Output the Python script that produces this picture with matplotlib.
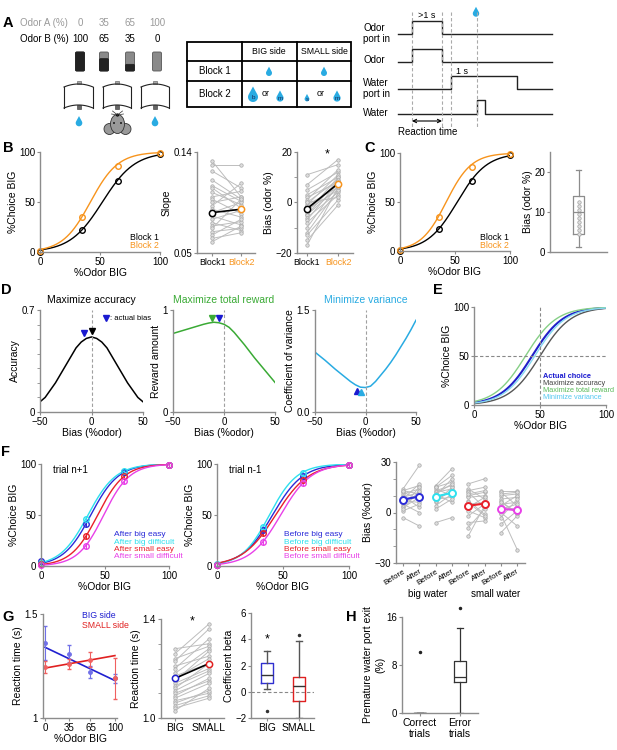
import numpy as np
import matplotlib
matplotlib.use("Agg")
import matplotlib.pyplot as plt
from matplotlib.patches import Polygon, Rectangle, Ellipse, Circle, FancyBboxPatch

plt.rcParams['font.family'] = ['Liberation Sans', 'DejaVu Sans']
plt.rcParams['font.size'] = 7

# ---------------- DATA ----------------
odor_a_pct = ["0", "35", "65", "100"]
odor_b_pct = ["100", "65", "35", "0"]
odor_levels = [0, 35, 65, 100]

# B / C psychometric
block1_choice = [0, 22, 71, 98]
block2_choice = [1, 35, 86, 99]
block1_fit = (52, 0.074)   # (midpoint, slope)
block2_fit = (42, 0.087)

slope_block1 = [0.132, 0.128, 0.123, 0.115, 0.110, 0.108, 0.104, 0.100, 0.098, 0.095, 0.092,
                0.089, 0.086, 0.083, 0.080, 0.077, 0.074, 0.072, 0.069, 0.066, 0.063, 0.060]
slope_block2 = [0.100, 0.128, 0.108, 0.098, 0.096, 0.090, 0.093, 0.105, 0.085, 0.100, 0.112,
                0.082, 0.095, 0.075, 0.088, 0.070, 0.078, 0.098, 0.072, 0.080, 0.068, 0.074]
slope_mean = [0.086, 0.089]

bias_block1 = [11, 7, 5, 3, 2, 1, 0, -1, -1, -2, -3, -3, -4, -5, -5, -6, -7, -8, -10, -12, -13, -15, -17, 0]
bias_block2 = [15, 17, 12, 10, 8, 13, 9, 11, 6, 7, 8, 5, 10, 6, 9, 4, 8, 3, 7, 5, 1, -1, 6, 2]
bias_mean = [-2.5, 7.5]

c_bias_points = [4.5, 5.5, 6.5, 7.5, 8.5, 9.5, 10.5, 11.5, 12.5]
c_bias_box = dict(med=10, q1=4.5, q3=14, whislo=1.2, whishi=20.5)

# D
bias_axis = [-50, -45, -40, -35, -30, -25, -20, -15, -10, -5, 0, 5, 10, 15, 20, 25, 30, 35, 40, 45, 50]
accuracy = [0.07, 0.10, 0.15, 0.20, 0.26, 0.32, 0.38, 0.44, 0.48, 0.505, 0.515,
            0.505, 0.48, 0.44, 0.38, 0.32, 0.26, 0.20, 0.15, 0.10, 0.07]
reward = [0.77, 0.785, 0.80, 0.815, 0.83, 0.845, 0.86, 0.872, 0.88, 0.875, 0.86,
          0.83, 0.78, 0.72, 0.66, 0.595, 0.53, 0.47, 0.41, 0.35, 0.29]
cv = [0.88, 0.82, 0.76, 0.695, 0.63, 0.57, 0.51, 0.45, 0.40, 0.365, 0.36,
      0.38, 0.45, 0.54, 0.63, 0.73, 0.84, 0.96, 1.08, 1.21, 1.35]

# E (midpoint, slope)
e_names = ["Actual choice", "Maximize accuracy", "Maximize total reward", "Minimize variance"]
e_fits = [(44, 0.085), (50, 0.085), (39, 0.085), (46, 0.085)]

# F
f1_names = ["After big easy", "After big difficult", "After small easy", "After small difficult"]
f1_choice = [[5, 41, 92, 99], [3, 46, 93, 99], [2, 29, 88, 99], [1, 20, 83, 99]]
f1_fits = [(38.9, 0.093), (36.7, 0.092), (44.3, 0.096), (49.0, 0.099)]
f2_names = ["Before big easy", "Before big difficult", "Before small easy", "Before small difficult"]
f2_choice = [[1, 35, 88, 99], [2, 38, 91, 99], [1, 32, 84, 99], [1, 24, 81, 99]]
f2_fits = [(42.1, 0.087), (39.7, 0.096), (44.4, 0.080), (48.2, 0.087)]

f3_groups = ["big easy", "big difficult", "small easy", "small difficult"]
f3_before = [[14, 13, 12, 11, 10, 9, 8, 7, 6, 5, 4, 3, 1, -3, 13, 2],
             [16, 15, 14, 13, 12, 11, 10, 9, 8, 6, 4, 2, -6, 15, 7, 11],
             [17, 14, 13, 12, 10, 9, 7, 5, 3, 1, -2, -6, -9, -14, 11, 6],
             [13, 12, 10, 8, 7, 5, 4, 3, 2, 0, -1, -3, -7, -12, 11, 6]]
f3_after = [[28, 16, 8, 14, 3, 12, 17, 6, 10, 0, 15, 9, 5, -8, 11, 13],
            [26, 18, 10, 16, 14, 6, 20, 12, 9, 15, 11, 8, -3, 22, 13, 17],
            [20, 8, 15, 3, 12, 10, -1, 6, 9, -3, 5, -5, 2, 4, 13, -2],
            [13, 4, 11, 9, -1, 6, 10, 2, 5, -8, -22, 8, 1, -2, 12, 0]]
f3_mean_before = [7.7, 9.5, 4.0, 2.2]
f3_mean_after = [9.5, 11.7, 5.3, 1.4]

# G
rt_big_mean = [1.36, 1.31, 1.22, 1.19]
rt_big_err = [0.08, 0.04, 0.03, 0.02]
rt_small_mean = [1.245, 1.26, 1.28, 1.19]
rt_small_err = [0.03, 0.025, 0.035, 0.10]
rt_big_fit = [1.34, 1.18]
rt_small_fit = [1.24, 1.30]

rt_big = [1.28, 1.26, 1.24, 1.23, 1.21, 1.20, 1.18, 1.17, 1.16, 1.15, 1.14, 1.13, 1.12, 1.11,
          1.10, 1.09, 1.08, 1.07, 1.06, 1.05, 1.04, 1.03]
rt_small = [1.30, 1.38, 1.29, 1.36, 1.25, 1.32, 1.28, 1.22, 1.24, 1.27, 1.20, 1.19, 1.22, 1.18,
            1.15, 1.16, 1.14, 1.10, 1.11, 1.09, 1.08, 1.12]
rt_mean = [1.16, 1.22]

beta_big = dict(med=1.3, q1=0.7, q3=2.2, whislo=0.2, whishi=3.1, fliers=[-1.5])
beta_small = dict(med=0.45, q1=-0.7, q3=1.15, whislo=-2.0, whishi=3.9, fliers=[4.3])

prem_correct = dict(med=0, q1=0, q3=0, whislo=0, whishi=0, fliers=[10.2])
prem_error = dict(med=6, q1=5.2, q3=8.7, whislo=0, whishi=14.2, fliers=[17.5])

# ---------------- COLOURS ----------------
ORANGE = '#F7941D'
GREEN = '#3AAA35'
CYAN = '#29ABE2'
DROP = '#29ABE2'
GRAYAX = '#8C8C8C'
F_COLS = ['#2B2BD8', '#2EE0EE', '#E8202A', '#E840E8']
E_COLS = ['#2020C8', '#555555', '#86CF86', '#86D8F2']

W, H = 617, 750
fig = plt.figure(figsize=(W / 100, H / 100), dpi=100)


def AX(x0, y0, x1, y1):
    ax = fig.add_axes([x0 / W, 1 - y1 / H, (x1 - x0) / W, (y1 - y0) / H])
    ax.patch.set_visible(False)
    for s in ['top', 'right']:
        ax.spines[s].set_visible(False)
    for s in ['left', 'bottom']:
        ax.spines[s].set_color(GRAYAX)
        ax.spines[s].set_linewidth(1.0)
    ax.tick_params(length=2.5, width=0.8, color=GRAYAX, labelsize=7, pad=1)
    ax.tick_params(which='minor', length=2, width=0.6, color=GRAYAX)
    return ax


def sigm(x, p):
    x0, k = p
    return 100.0 / (1 + np.exp(-k * (np.asarray(x) - x0)))


ov = fig.add_axes([0, 0, 1, 1], zorder=10)
ov.set_xlim(0, W)
ov.set_ylim(H, 0)
ov.axis('off')
ov.patch.set_visible(False)


def T(x, y, s, **kw):
    kw.setdefault('ha', 'left')
    kw.setdefault('va', 'center')
    kw.setdefault('fontsize', 7)
    ov.text(x, y, s, **kw)


def drop(cx, cy, r, letter=None):
    d = 2.1 * r
    a = np.degrees(np.arccos(r / d))
    phi = np.radians(np.linspace(90 + a, 450 - a, 40))
    xs = np.r_[cx, cx + r * np.cos(phi)]
    ys = np.r_[cy - d, cy - r * np.sin(phi)]
    ov.add_patch(Polygon(np.c_[xs, ys], closed=True, fc=DROP, ec='none'))
    if letter:
        ov.text(cx, cy + 0.3, letter, ha='center', va='center', fontsize=4.5, color='#1A2A5A')


# panel letters
for lab, (x, y) in {'A': (8, 23), 'B': (8, 148), 'C': (370, 148), 'D': (6, 290), 'E': (438, 290),
                    'F': (6, 452), 'G': (8, 617), 'H': (351, 617)}.items():
    T(x, y, lab, fontsize=10.5, fontweight='bold', ha='center')

# ---------------- PANEL A ----------------
T(20, 23, "Odor A (%)", color='#9A9A9A')
T(20, 39, "Odor B (%)", color='black')
vx = [80, 104, 130, 157]
for i, x in enumerate(vx):
    T(x, 23, odor_a_pct[i], color='#9A9A9A', ha='center')
    T(x, 39, odor_b_pct[i], ha='center')
fracB = [1.0, 0.65, 0.35, 0.0]
for x, fb in zip(vx, fracB):
    top, bot = 52, 71
    hgt = bot - top
    ov.add_patch(FancyBboxPatch((x - 4.5, top), 9, hgt, boxstyle='round,pad=0,rounding_size=1.5',
                                fc='#8A8A8A', ec='#555', lw=0.6))
    if fb > 0:
        ov.add_patch(FancyBboxPatch((x - 4.5, bot - hgt * fb), 9, hgt * fb,
                                    boxstyle='round,pad=0,rounding_size=1.2', fc='#222', ec='#222', lw=0.6))

# ports
for (x0, x1) in [(64, 93), (103, 131), (141, 169)]:
    xc = (x0 + x1) / 2
    y0, y1 = 84, 108
    xs = np.linspace(x0, x1, 30)
    u = (xs - xc) / ((x1 - x0) / 2)
    top = y0 + 3 * u ** 2
    bottom = y1 - 3 * (1 - u ** 2)
    ov.plot(xs, top, color='#222', lw=0.8)
    ov.plot(xs, bottom, color='#222', lw=0.8)
    ov.plot([x0, x0], [y0 + 3, y1], color='#222', lw=0.8)
    ov.plot([x1, x1], [y0 + 3, y1], color='#222', lw=0.8)
    ov.add_patch(Rectangle((xc - 2, y0 - 3), 4, 3, fc='#AAA', ec='#555', lw=0.4))
    ov.add_patch(Rectangle((xc - 2, y1 - 3), 4, 3.5, fc='#666', ec='#333', lw=0.4))
drop(79, 123, 3.3)
drop(155, 123, 3.3)
# mouse
ov.add_patch(Circle((109.5, 129), 5.5, fc='#999', ec='#333', lw=0.6))
ov.add_patch(Circle((125.5, 129), 5.5, fc='#999', ec='#333', lw=0.6))
ov.add_patch(Ellipse((117.5, 124), 14, 19, fc='#999', ec='#333', lw=0.6))
ov.add_patch(Circle((117.5, 115), 1.6, fc='black', ec='none'))
ov.add_patch(Circle((114, 123), 0.9, fc='black', ec='none'))
ov.add_patch(Circle((121, 123), 0.9, fc='black', ec='none'))
for dx in (-1, 1):
    ov.plot([117.5, 117.5 + dx * 5], [115, 111], color='#333', lw=0.5)
    ov.plot([117.5, 117.5 + dx * 6], [115, 114], color='#333', lw=0.5)

# table
tx0, tx1, ty0, ty1 = 187, 351, 42, 107
ov.add_patch(Rectangle((tx0, ty0), tx1 - tx0, ty1 - ty0, fc='none', ec='black', lw=1.3))
for x in (242, 297):
    ov.plot([x, x], [ty0, ty1], color='black', lw=1.3)
for y in (61, 81):
    ov.plot([tx0, tx1], [y, y], color='black', lw=1.3)
T(269, 52, "BIG side", ha='center', fontsize=6.3)
T(324, 52, "SMALL side", ha='center', fontsize=6.3)
T(215, 71, "Block 1", ha='center', fontsize=7)
T(215, 94, "Block 2", ha='center', fontsize=7)
drop(269, 73, 3.0)
drop(324, 73, 3.0)
drop(253, 97, 5.0, 'b')
T(266, 94, "or", ha='center', fontsize=6.5)
drop(280, 98, 3.6, 'm')
drop(307, 99, 2.4, 's')
T(321, 94, "or", ha='center', fontsize=6.5)
drop(337, 98, 3.6, 'm')

# timing diagram
T(363, 28, "Odor", fontsize=7)
T(363, 39, "port in", fontsize=7)
T(363, 60, "Odor", fontsize=7)
T(363, 83, "Water", fontsize=7)
T(363, 94, "port in", fontsize=7)
T(363, 113, "Water", fontsize=7)
xs_end = 552


def trace(lo, hi, ton, toff):
    ov.plot([398, ton, ton, toff, toff, xs_end], [lo, lo, hi, hi, lo, lo], color='#222', lw=1.0)


trace(34, 21, 412, 442)
trace(62, 49, 412, 442)
trace(89, 76, 451, 517)
trace(114, 100, 477, 485)
for x in (412, 442, 451, 477):
    ov.plot([x, x], [12, 127], color='#AAAAAA', lw=0.8, ls=(0, (3, 2)))
T(427, 15, ">1 s", ha='center', fontsize=6.5)
T(462, 71, "1 s", ha='center', fontsize=6.5)
drop(476, 13.5, 3.2)
ov.annotate('', xy=(412, 121), xytext=(442, 121),
            arrowprops=dict(arrowstyle='<->', lw=0.8, color='black', shrinkA=0, shrinkB=0,
                            mutation_scale=6))
T(428, 132, "Reaction time", ha='center', fontsize=7)

# ---------------- PANEL B ----------------
xx = np.linspace(0, 100, 200)


def psych(ax, data_pairs, fits):
    for (vals, col), p in zip(data_pairs, fits):
        ax.plot(xx, sigm(xx, p), color=col, lw=1.0)
        ax.plot(odor_levels, vals, 'o', mfc='none', mec=col, ms=4, mew=1.0, clip_on=False)
    ax.set_xlim(0, 100)
    ax.set_ylim(0, 100)
    ax.set_xticks([0, 50, 100])
    ax.set_yticks([0, 50, 100])
    ax.set_xlabel("%Odor BIG", fontsize=7.5, labelpad=1)
    ax.set_ylabel("%Choice BIG", fontsize=7.5, labelpad=1)


for (x0, y0, x1, y1), lx in [((40, 152, 160, 252), 159), ((400, 153, 510, 251), 509)]:
    ax = AX(x0, y0, x1, y1)
    psych(ax, [(block1_choice, 'black'), (block2_choice, ORANGE)], [block1_fit, block2_fit])
    T(lx, y1 - 14, "Block 1", ha='right', fontsize=6.3)
    T(lx, y1 - 6, "Block 2", ha='right', fontsize=6.3, color=ORANGE)

# slope
ax = AX(197, 152, 255, 253)
for a, b in zip(slope_block1, slope_block2):
    ax.plot([0, 1], [a, b], color='#BDBDBD', lw=0.7, marker='o', ms=2.5, mfc='#DDDDDD', mec='#A8A8A8', mew=0.5)
ax.plot([0, 1], slope_mean, color='black', lw=1.2)
ax.plot([0], slope_mean[0], 'o', mfc='white', mec='black', ms=4.5, mew=1.1)
ax.plot([1], slope_mean[1], 'o', mfc='white', mec=ORANGE, ms=4.5, mew=1.1)
ax.set_xlim(-0.52, 1.48)
ax.set_ylim(0.05, 0.14)
ax.set_yticks([0.05, 0.14])
ax.set_yticklabels(["0.05", "0.14"])
ax.set_xticks([0, 1])
ax.set_xticklabels(["Block1", "Block2"], fontsize=6.3)
ax.get_xticklabels()[1].set_color(ORANGE)
ax.set_ylabel("Slope", fontsize=7.5, labelpad=1)

# bias
ax = AX(297, 152, 353, 253)
for a, b in zip(bias_block1, bias_block2):
    ax.plot([0, 1], [a, b], color='#BDBDBD', lw=0.7, marker='o', ms=2.5, mfc='#DDDDDD', mec='#A8A8A8', mew=0.5)
ax.plot([0, 1], bias_mean, color='black', lw=1.2)
ax.plot([0], bias_mean[0], 'o', mfc='white', mec='black', ms=4.5, mew=1.1)
ax.plot([1], bias_mean[1], 'o', mfc='white', mec=ORANGE, ms=4.5, mew=1.1)
ax.set_xlim(-0.32, 1.48)
ax.set_ylim(-20, 20)
ax.set_yticks([-20, 0, 20])
ax.set_yticks([-10, 10], minor=True)
ax.set_xticks([0, 1])
ax.set_xticklabels(["Block1", "Block2"], fontsize=6.3)
ax.get_xticklabels()[1].set_color(ORANGE)
ax.set_ylabel("Bias (odor %)", fontsize=7.5, labelpad=1)
ax.text(0.64, 19, "*", ha='center', va='center', fontsize=9)

# C bias box
ax = AX(550, 152, 607, 252)
st = dict(c_bias_box, fliers=[])
ax.bxp([st], positions=[0.5], widths=0.18, showfliers=False,
       boxprops=dict(color=GRAYAX, lw=0.9), medianprops=dict(color=GRAYAX, lw=0.9),
       whiskerprops=dict(color=GRAYAX, lw=0.9), capprops=dict(color=GRAYAX, lw=0.9))
ax.plot([0.5] * len(c_bias_points), c_bias_points, 'o', mfc='#E0E0E0', mec='#A0A0A0', ms=2.5, mew=0.5)
ax.set_xlim(0, 1)
ax.set_ylim(0, 25)
ax.set_yticks([0, 10, 20])
ax.set_xticks([])
ax.set_ylabel("Bias (odor %)", fontsize=7.5, labelpad=1)

# ---------------- PANEL D ----------------
def dpanel(box, vals, col, ymax, yt, ylabel, title, tcol):
    ax = AX(*box)
    ax.plot(bias_axis, vals, color=col, lw=1.1)
    ax.axvline(0, color='#A0A0A0', lw=0.8, ls=(0, (3, 2)))
    ax.set_xlim(-50, 50)
    ax.set_ylim(0, ymax)
    ax.set_xticks([-50, 0, 50])
    ax.set_yticks(yt)
    ax.set_xlabel("Bias (%odor)", fontsize=7.5, labelpad=1)
    ax.set_ylabel(ylabel, fontsize=7.5, labelpad=1)
    x0, y0, x1, y1 = box
    T((x0 + x1) / 2, y0 - 10, title, ha='center', fontsize=7.5, color=tcol)
    return ax


ax = dpanel((40, 310, 143, 412), accuracy, 'black', 0.7, [0, 0.7], "Accuracy", "Maximize accuracy", 'black')
ax.set_yticklabels(["0", "0.7"])
ax.set_yticks(np.arange(0.1, 0.7, 0.1), minor=True)
ax.plot([-7], [0.54], 'v', color='#1A1AD0', ms=5)
ax.plot([0], [0.555], 'v', color='black', ms=5)
ax.plot([14], [0.645], 'v', color='#1A1AD0', ms=4.5, clip_on=False)
ax.text(18, 0.645, ": actual bias", fontsize=5.5, va='center')

ax = dpanel((173, 310, 275, 412), reward, GREEN, 1.0, [0, 1], "Reward amount", "Maximize total reward", GREEN)
ax.plot([-12], [0.925], 'v', color=GREEN, ms=5)
ax.plot([-5], [0.925], 'v', color='#1A1AD0', ms=5)

ax = dpanel((315, 310, 416, 412), cv, CYAN, 1.5, [0, 1.5], "Coefficient of variance", "Minimize variance", CYAN)
ax.plot([-8.5], [0.31], '^', color='#1A1AD0', ms=5)
ax.plot([-4.5], [0.30], '^', color=CYAN, ms=5)

# ---------------- PANEL E ----------------
ax = AX(474, 307, 606, 405)
for p, col, lw in zip(e_fits, E_COLS, [1.5, 1.0, 1.0, 1.0]):
    ax.plot(xx, sigm(xx, p), color=col, lw=lw)
ax.axhline(50, color='#888', lw=0.8, ls=(0, (3, 2)))
ax.axvline(50, color='#888', lw=0.8, ls=(0, (3, 2)))
ax.set_xlim(0, 100)
ax.set_ylim(0, 100)
ax.set_xticks([0, 50, 100])
ax.set_yticks([0, 50, 100])
ax.set_xlabel("%Odor BIG", fontsize=7.5, labelpad=1)
ax.set_ylabel("%Choice BIG", fontsize=7.5, labelpad=1)
ecol_text = ['#1A1AD0', '#444444', '#5DBB5D', '#55C8F0']
for i, (nm, c) in enumerate(zip(e_names, ecol_text)):
    T(543, 376 + 7.3 * i, nm, color=c, fontsize=5.3, fontweight='bold' if i == 0 else 'normal')

# ---------------- PANEL F ----------------
for box, choice, fits, names, label, lx in [((41, 464, 169, 566), f1_choice, f1_fits, f1_names, "trial n+1", 114),
                                            ((217, 464, 349, 566), f2_choice, f2_fits, f2_names, "trial n-1", 284)]:
    ax = AX(*box)
    for vals, p, col in zip(choice, fits, F_COLS):
        ax.plot(xx, sigm(xx, p), color=col, lw=1.0)
        ax.errorbar(odor_levels, vals, yerr=[2, 3, 3, 1], fmt='o', mfc='none', mec=col, ecolor=col,
                    ms=4, mew=1.0, elinewidth=0.8, capsize=0, clip_on=False)
    ax.set_xlim(0, 100)
    ax.set_ylim(0, 100)
    ax.set_xticks([0, 50, 100])
    ax.set_yticks([0, 50, 100])
    ax.set_xlabel("%Odor BIG", fontsize=7.5, labelpad=1)
    ax.set_ylabel("%Choice BIG", fontsize=7.5, labelpad=1)
    T(box[0] + 12, 470, label, fontsize=7)
    for i, (nm, col) in enumerate(zip(names, F_COLS)):
        T(lx, 535 + 7.3 * i, nm, color=col, fontsize=6)

ax = AX(396, 462, 525, 563)
for g in range(4):
    pb, pa = 2 * g, 2 * g + 1
    for a, b in zip(f3_before[g], f3_after[g]):
        ax.plot([pb, pa], [a, b], color='#BDBDBD', lw=0.7, marker='o', ms=2.5, mfc='#DDDDDD',
                mec='#A8A8A8', mew=0.5)
    ax.plot([pb, pa], [f3_mean_before[g], f3_mean_after[g]], color=F_COLS[g], lw=1.5,
            marker='o', ms=5, mfc='white', mec=F_COLS[g], mew=1.4)
ax.set_xlim(-0.43, 7.48)
ax.set_ylim(-30, 30)
ax.set_yticks([-30, 0, 30])
ax.set_yticks([-20, -10, 10, 20], minor=True)
ax.set_xticks(range(8))
ax.set_xticklabels(["Before", "After"] * 4, rotation=32, ha='right', rotation_mode='anchor', fontsize=5.8)
ax.set_ylabel("Bias (%odor)", fontsize=7.5, labelpad=1)
T(428, 594, "big water", ha='center', fontsize=7)
T(496, 594, "small water", ha='center', fontsize=7)

# ---------------- PANEL G ----------------
ax = AX(43, 614, 117, 718)
ax.plot([0, 100], rt_big_fit, color='#2020D0', lw=1.2)
ax.plot([0, 100], rt_small_fit, color='#E02020', lw=1.2)
ax.errorbar(odor_levels, rt_big_mean, yerr=rt_big_err, fmt='o', color='#7070E8', ms=2.5,
            elinewidth=0.8, capsize=1.5, clip_on=False)
ax.errorbar(odor_levels, rt_small_mean, yerr=rt_small_err, fmt='o', color='#F06060', ms=2.5,
            elinewidth=0.8, capsize=1.5, clip_on=False)
ax.set_xlim(-2.9, 103)
ax.set_ylim(1, 1.5)
ax.set_xticks(odor_levels)
ax.set_yticks([1, 1.5])
ax.set_yticklabels(["1", "1.5"])
ax.set_xlabel("%Odor BIG", fontsize=7.5, labelpad=1)
ax.set_ylabel("Reaction time (s)", fontsize=7.5, labelpad=1)
T(82, 615, "BIG side", color='#2020D0', fontsize=6.3)
T(82, 625, "SMALL side", color='#E02020', fontsize=6.3)

ax = AX(161, 619, 224, 718)
for a, b in zip(rt_big, rt_small):
    ax.plot([0, 1], [a, b], color='#BDBDBD', lw=0.7, marker='o', ms=2.5, mfc='#DDDDDD', mec='#A8A8A8', mew=0.5)
ax.plot([0, 1], rt_mean, color='black', lw=1.2)
ax.plot([0], rt_mean[0], 'o', mfc='white', mec='#2020D0', ms=4.5, mew=1.1)
ax.plot([1], rt_mean[1], 'o', mfc='white', mec='#E02020', ms=4.5, mew=1.1)
ax.set_xlim(-0.41, 1.44)
ax.set_ylim(1.0, 1.4)
ax.set_yticks([1.0, 1.4])
ax.set_yticks([1.1, 1.2, 1.3], minor=True)
ax.set_yticklabels(["1.0", "1.4"])
ax.set_xticks([0, 1])
ax.set_xticklabels(["BIG", "SMALL"], fontsize=7.5)
ax.set_ylabel("Reaction time (s)", fontsize=7.5, labelpad=1)
ax.text(0.5, 1.39, "*", ha='center', va='center', fontsize=9)

ax = AX(251, 613, 314, 718)
ax.axhline(0, color='#888', lw=0.8, ls=(0, (3, 2)))
for st, pos, col in [(beta_big, 0, '#3030D0'), (beta_small, 1, '#E02020')]:
    r = ax.bxp([st], positions=[pos], widths=0.38, showfliers=True,
               boxprops=dict(color=col, lw=1.0), medianprops=dict(color='#333', lw=1.0),
               whiskerprops=dict(color='#555', lw=1.0), capprops=dict(color='#555', lw=1.0),
               flierprops=dict(marker='o', ms=1.5, mfc='#333', mec='#333'))
    for f in r['fliers']:
        f.set_clip_on(False)
ax.set_xlim(-0.5, 1.47)
ax.set_ylim(-2, 6)
ax.set_yticks([-2, 0, 2, 4, 6])
ax.set_xticks([0, 1])
ax.set_xticklabels(["BIG", "SMALL"], fontsize=7.5)
ax.set_ylabel("Coefficient beta", fontsize=7.5, labelpad=1)
ax.text(0, 4.0, "*", ha='center', va='center', fontsize=9)

# ---------------- PANEL H ----------------
ax = AX(402, 617, 478, 713)
for st, pos in [(prem_correct, 0), (prem_error, 1)]:
    r = ax.bxp([st], positions=[pos], widths=0.3, showfliers=True,
               boxprops=dict(color='#333', lw=0.9), medianprops=dict(color='#333', lw=0.9),
               whiskerprops=dict(color='#333', lw=0.9), capprops=dict(color='#333', lw=0.9),
               flierprops=dict(marker='o', ms=1.5, mfc='#222', mec='#222'))
    for f in r['fliers']:
        f.set_clip_on(False)
ax.set_xlim(-0.45, 1.45)
ax.set_ylim(0, 16)
ax.set_yticks([0, 8, 16])
ax.set_xticks([0, 1])
ax.set_xticklabels(["Correct\ntrials", "Error\ntrials"], fontsize=7.5)
ax.set_ylabel("Premature water port exit\n(%)", fontsize=7.5, labelpad=1)

fig.savefig("out.png", dpi=100)
